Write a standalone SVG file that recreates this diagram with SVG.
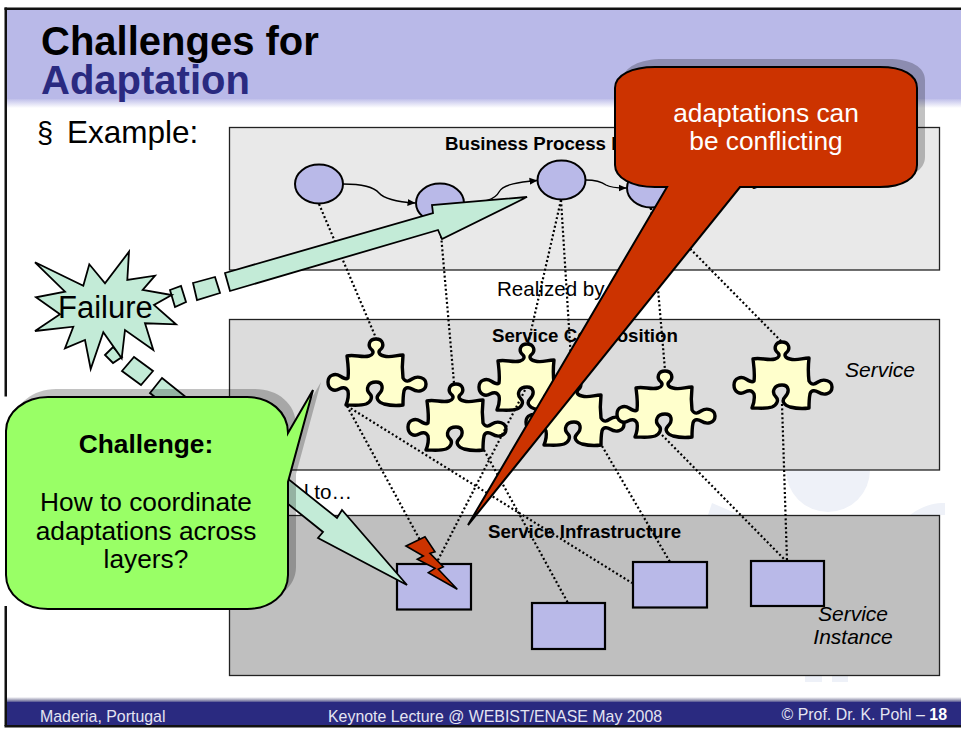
<svg xmlns="http://www.w3.org/2000/svg" width="961" height="731" viewBox="0 0 961 731">
<defs>
<linearGradient id="hf" x1="0" y1="0" x2="0" y2="1"><stop offset="0" stop-color="#b9b9e8"/><stop offset="1" stop-color="#ffffff"/></linearGradient>
<linearGradient id="ff" x1="0" y1="0" x2="0" y2="1"><stop offset="0" stop-color="#ffffff"/><stop offset="0.5" stop-color="#a0a0b8"/><stop offset="1" stop-color="#2a2a80"/></linearGradient>
<path id="piece" d="M-29,0 C-22,-2 -14,2 -7,0 C-3,-1 -2,-4 -4,-6 C-9,-10 -7,-17 0,-17 C7,-17 9,-10 4,-6 C2,-4 3,-1 8,0 C15,2 20,-1 27,-1 C26,8 26,14 27,22 C30,27 33,25 36,23 C42,19 50,22 50,28 C50,35 42,37 36,33 C33,31 29,31 28,35 C27,40 27,44 27,49 C20,50 12,49 8,48 C2,46 -1,42 3,38 C8,33 7,26 0,26 C-8,26 -11,33 -6,38 C-3,41 -5,46 -10,48 C-16,50 -22,49 -30,49 C-28,44 -27,40 -28,35 C-30,31 -33,31 -37,33 C-42,36 -48,33 -48,26 C-48,19 -41,17 -36,20 C-33,22 -30,24 -28,22 C-27,15 -28,8 -29,0 Z"/>
<path id="redShape" d="M655,67 H880 C903,67 917,75 917,88 V165 C917,178 903,187 880,187 H740 L468,525 L667,187 H655 C632,187 615,178 615,165 V88 C615,75 632,67 655,67 Z"/>
<path id="greenShape" d="M48,397 H247 C270,397 288,412 288,433 L313,390 L288,482 V575 C288,595 270,609 247,609 H48 C25,609 6,595 6,575 V431 C6,412 25,397 48,397 Z"/>
<marker id="ah" viewBox="0 0 8 8" refX="7.5" refY="4" markerWidth="8" markerHeight="8" orient="auto" markerUnits="userSpaceOnUse"><path d="M0,0.5 L8,4 L0,7.5 Z" fill="#000"/></marker>
</defs>
<style>
text{font-family:"Liberation Sans",Arial,sans-serif}
.layer{stroke:#222;stroke-width:1.3}
.act{fill:#b9b9e8;stroke:#000;stroke-width:2}
.inst{fill:#b9b9e8;stroke:#000;stroke-width:2.2}
.pz{fill:#ffffcc;stroke:#000;stroke-width:3.400;stroke-linejoin:round}
.flow{fill:none;stroke:#000;stroke-width:1.4;marker-end:url(#ah)}
.dot{fill:none;stroke:#000;stroke-width:2.2;stroke-dasharray:2 2.4}
.mint{fill:#c3ebd7;stroke:#000;stroke-width:1.8;stroke-linejoin:miter}
.lb{font-size:18.7px;font-weight:bold;fill:#000}
.it{font-size:21px;font-style:italic;fill:#000;text-anchor:middle}
.nm{font-size:20.6px;fill:#000}
.cg{font-size:26.3px;fill:#000;text-anchor:middle}
.cr{font-size:26.3px;fill:#fff;text-anchor:middle}
.ft{font-size:15.9px;fill:#e4e4f2}
.sh{fill:#000;opacity:.24}
</style>
<rect width="961" height="731" fill="#fff"/>
<g id="watermark" fill="#eef1f8">
<circle cx="828" cy="470" r="42"/>
<path d="M708,515 L712,503 L740,515 Z"/>
<path d="M910,515 C922,506 933,503 945,503 V515 Z"/>
<rect x="805" y="676" width="17" height="6"/>
<rect x="832" y="676" width="16" height="6"/>
</g>
<g id="slide-frame">
<rect x="5" y="98" width="956" height="10" fill="url(#hf)"/>
<rect x="5" y="9" width="956" height="90" fill="#b9b9e8"/>
<rect x="5" y="697" width="956" height="6" fill="url(#ff)"/>
<rect x="5" y="702" width="956" height="24" fill="#2a2a80"/>
</g>
<g id="title">
<text x="41" y="55" font-size="40" font-weight="bold" fill="#000">Challenges for</text>
<text x="41" y="94" font-size="40" font-weight="bold" fill="#2a2a80">Adaptation</text>
<text x="37" y="143" font-size="29" fill="#000">§</text>
<text x="67" y="143" font-size="31.500" fill="#000">Example:</text>
</g>
<g id="layers">
<g id="layer-business"><rect class="layer" x="229.5" y="127.5" width="710" height="142.500" fill="#e9e9e9"/>
<text class="lb" x="445" y="150">Business Process M</text>
<text class="it" x="759" y="185">y</text></g>
<text class="nm" x="497" y="296">Realized by</text>
<g id="layer-composition"><rect class="layer" x="229.5" y="319.500" width="710" height="150.500" fill="#dcdcdc"/>
<text class="lb" x="492" y="342">Service Composition</text>
<text class="it" x="880" y="377">Service</text></g>
<text class="nm" x="304" y="499">l to…</text>
<g id="layer-infrastructure"><rect class="layer" x="229.5" y="515.500" width="710" height="160" fill="#bfbfbf"/>
<text class="lb" x="488" y="538">Service Infrastructure</text>
<text class="it" x="853" y="621">Service</text>
<text class="it" x="853" y="644">Instance</text></g>
</g>
<g id="activity-1"><ellipse class="act" cx="319" cy="184" rx="24" ry="19.500"/></g>
<g id="activity-2"><ellipse class="act" cx="440" cy="203" rx="24" ry="19.500"/></g>
<g id="activity-3"><ellipse class="act" cx="561.500" cy="180" rx="24" ry="19.500"/></g>
<g id="activity-4"><ellipse class="act" cx="651" cy="188" rx="24" ry="19.500"/></g>
<g id="service-1"><use class="pz" href="#piece" x="376" y="356"/></g>
<g id="service-2"><use class="pz" href="#piece" x="456" y="401"/></g>
<g id="service-3"><use class="pz" href="#piece" x="527" y="361"/></g>
<g id="service-4"><use class="pz" href="#piece" x="574" y="396"/></g>
<g id="service-5"><use class="pz" href="#piece" x="665" y="388"/></g>
<g id="service-6"><use class="pz" href="#piece" x="782" y="359"/></g>
<g id="instance-a"><rect class="inst" x="397" y="564" width="74" height="45.500"/></g>
<g id="instance-b"><rect class="inst" x="532" y="603" width="73" height="46"/></g>
<g id="instance-c"><rect class="inst" x="633" y="562" width="74" height="45.500"/></g>
<g id="instance-d"><rect class="inst" x="751" y="561" width="73" height="45"/></g>
<g id="connectors">
<path class="flow" d="M343,184 C362,184 374,187 379,193 C385,200 400,202 415,203"/>
<path class="flow" d="M464,203 C480,203 495,200 499,192 C503,184 520,182 537,180.500"/>
<path class="flow" d="M585.500,180 C596,180 602,182 606,185 C611,188 618,188 626,188"/>
<path class="dot" d="M319,204 L376,338"/>
<path class="dot" d="M440,223 L454,383"/>
<path class="dot" d="M561,200 L528,344"/>
<path class="dot" d="M561,200 L573,392"/>
<path class="dot" d="M651,208 L665,370"/>
<path class="dot" d="M650,208 L782,342"/>
<path class="dot" d="M347,406 L433,564"/>
<path class="dot" d="M347,406 L632,583"/>
<path class="dot" d="M484,450 L568,603"/>
<path class="dot" d="M525,390 L437,562"/>
<path class="dot" d="M602,446 L670,562"/>
<path class="dot" d="M662,435 L786,561"/>
<path class="dot" d="M782,404 L787,561"/>
<path class="mint" d="M225,273 L433,213 L432,205 L527,197 L442,239 L438,230 L230,291 Z"/>
<path class="mint" d="M170,290 L181,286 L186,302 L175,307 Z"/>
<path class="mint" d="M193,283 L215,277 L220,293 L197,300 Z"/>
<path class="mint" d="M105,355 L113,347 L122,357 L113,363 Z"/>
<path class="mint" d="M122,371 L134,357 L153,371 L141,385 Z"/>
<path class="mint" d="M162,378 L337,518 L342,510 L407,585 L318,538 L323,532 L150,393 Z"/>
</g>
<g id="failure">
<polygon class="mint" points="35,262.300 83.300,285.700 89.300,264.300 105,283.300 129,251.700 127.300,280 155,275.700 142.700,290 171.700,295 154,305 176,324.300 145,323.300 153.300,350 125,330 121.700,358.300 103.300,332.300 90.700,369 85,340 65,348.300 73.300,326.700 35,331 60,314.300 36,297.300 65,291.700"/>
<text x="58" y="318" font-size="31" fill="#000">Failure</text>
</g>
<g id="fault-bolt">
<polygon fill="#cc3300" stroke="#000" stroke-width="1.600" points="406,546 425,536.700 435,551.700 430,553.300 443.300,566.700 438.300,569.300 457.300,589.300 428.300,572.700 435,568.300 417.300,559.300 423.300,556"/>
</g>
<g id="callout-conflict">
<use class="sh" href="#redShape" x="8" y="-8"/>
<use href="#redShape" fill="#cc3300" stroke="#000" stroke-width="2"/>
<text class="cr" x="766" y="122">adaptations can</text>
<text class="cr" x="766" y="150">be conflicting</text>
</g>
<g id="callout-challenge">
<use class="sh" href="#greenShape" x="8" y="-8"/>
<use href="#greenShape" fill="#99ff66" stroke="#000" stroke-width="2"/>
<text class="cg" x="146" y="453" font-weight="bold">Challenge:</text>
<text class="cg" x="146" y="511">How to coordinate</text>
<text class="cg" x="146" y="540">adaptations across</text>
<text class="cg" x="146" y="568">layers?</text>
</g>
<g id="footer">
<text class="ft" x="40" y="722">Maderia, Portugal</text>
<text class="ft" x="328" y="722">Keynote Lecture @ WEBIST/ENASE May 2008</text>
<text class="ft" x="947" y="720" text-anchor="end">© Prof. Dr. K. Pohl – <tspan font-weight="bold" fill="#fff">18</tspan></text>
<rect x="4.500" y="725" width="956.500" height="6" fill="#fff"/>
<rect x="4.500" y="725" width="956.500" height="2.500" fill="#111"/>
</g>
<g id="border">
<rect x="4.500" y="7.500" width="956.500" height="2.500" fill="#111"/>
<rect x="4.500" y="7.500" width="2.500" height="389" fill="#111"/>
<rect x="4.500" y="606" width="2.500" height="120" fill="#111"/>
</g>
</svg>
